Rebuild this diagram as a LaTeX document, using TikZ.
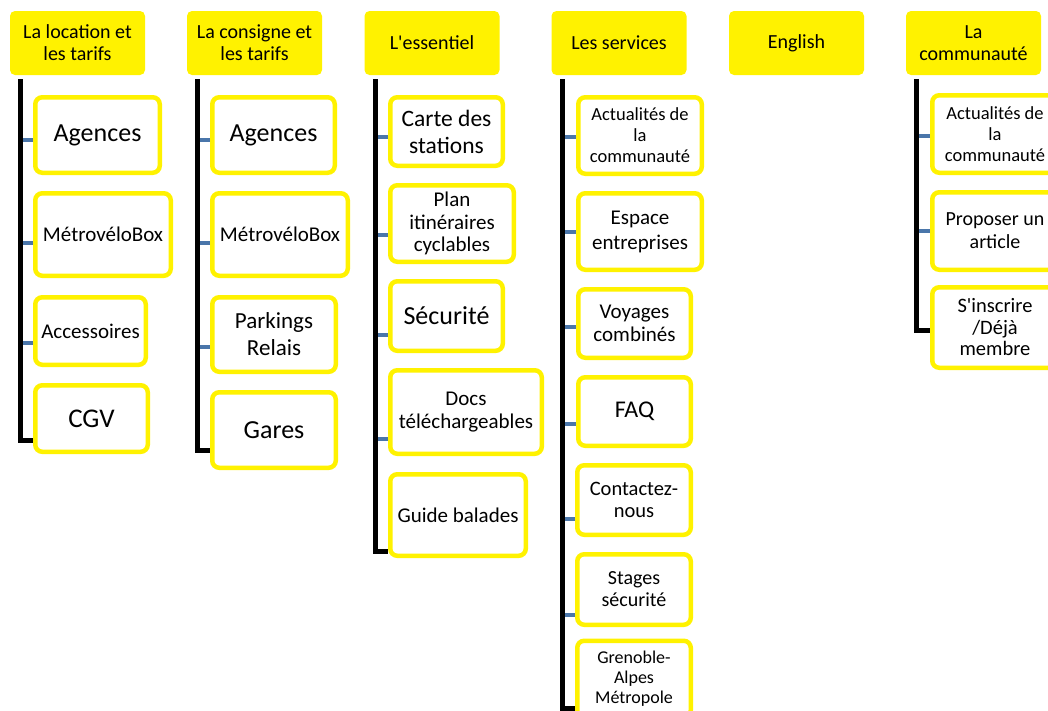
\documentclass[tikz,border=0pt]{standalone}
\usepackage{fontspec}
\setmainfont{Carlito}
\definecolor{stubblue}{RGB}{74,118,170}
\tikzset{
  head/.style={fill=yellow, rounded corners=5, align=center, inner sep=0,
    minimum width=135, minimum height=64, font=\fontsize{20}{22}\selectfont},
  kid/.style={draw=yellow, line width=4.5, fill=white, rounded corners=7,
    align=center, inner sep=0},
  sz/.style 2 args={font=\fontsize{#1}{#2}\selectfont},
  bar/.style={line width=5, black},
  stub/.style={line width=4.5, stubblue},
}
\begin{document}
\begin{tikzpicture}[x=1pt,y=-1pt]
  \useasboundingbox (0,0) rectangle (1048,710);
  % top row
  \node[head] (h1) at (77.5,43) {La location et\\les tarifs};
  \node[head] (h2) at (254.5,43) {La consigne et\\les tarifs};
  \node[head] (h3) at (432,43) {L\textquotesingle essentiel};
  \node[head] (h4) at (619,43) {Les services};
  \node[head] (h5) at (796.5,43) {English};
  \node[head] (h6) at (973.5,43) {La\\communauté};
  % location
  \node[kid, sz={26}{28}, minimum width=124.5, minimum height=75.5] (c11) at (97.5,135) {Agences};
  \node[kid, sz={21}{24}, minimum width=135.5, minimum height=82.5] (c12) at (103,234.5) {MétrovéloBox};
  \node[kid, sz={21}{24}, minimum width=110.5, minimum height=67.5] (c13) at (90.5,331) {Accessoires};
  \node[kid, sz={27}{30}, minimum width=112.5, minimum height=66.5] (c14) at (91.5,418.5) {CGV};
  % consigne
  \node[kid, sz={26}{28}, minimum width=122.5, minimum height=75.5] (c21) at (273.5,135) {Agences};
  \node[kid, sz={21}{24}, minimum width=135.5, minimum height=82.5] (c22) at (280,234.5) {MétrovéloBox};
  \node[kid, sz={23}{27}, minimum width=123.5, minimum height=74.5] (c23) at (274,334.5) {Parkings\\Relais};
  \node[kid, sz={26}{28}, minimum width=123.5, minimum height=75.5] (c24) at (274,430) {Gares};
  % essentiel
  \node[kid, sz={23.5}{27}, minimum width=112.5, minimum height=68.5] (c31) at (446.5,131.5) {Carte des\\stations};
  \node[kid, sz={21}{22.5}, minimum width=123.5, minimum height=76.5] (c32) at (452,223.5) {Plan\\itinéraires\\cyclables};
  \node[kid, sz={26}{28}, minimum width=112.5, minimum height=69.5] (c33) at (446.5,316) {Sécurité};
  \node[kid, sz={21}{23}, minimum width=151.5, minimum height=83.5] (c34) at (466,412) {Docs\\téléchargeables};
  \node[kid, sz={21}{23}, minimum width=135.5, minimum height=81.5] (c35) at (458,515) {Guide balades};
  % services
  \node[kid, sz={18.5}{21}, minimum width=123.5, minimum height=76.5] (c41) at (640,135.5) {Actualités de\\la\\communauté};
  \node[kid, sz={21}{25}, minimum width=123.5, minimum height=76.5] (c42) at (640,231.5) {Espace\\entreprises};
  \node[kid, sz={21}{23}, minimum width=112.5, minimum height=68.5] (c43) at (634.5,323.5) {Voyages\\combinés};
  \node[kid, sz={24}{26}, minimum width=112.5, minimum height=68.5] (c44) at (634.5,411.5) {FAQ};
  \node[kid, sz={20.5}{22}, minimum width=113.5, minimum height=69.5] (c45) at (634,500) {Contactez-\\nous};
  \node[kid, sz={20}{22}, minimum width=113.5, minimum height=70.5] (c46) at (634,589.5) {Stages\\sécurité};
  \node[kid, sz={18}{20}, minimum width=113.5, minimum height=76.5] (c47) at (634,679) {Grenoble-\\Alpes\\Métropole};
  % communaute
  \node[kid, sz={18.5}{21}, minimum width=125.5, minimum height=77.5] (c61) at (995,134) {Actualités de\\la\\communauté};
  \node[kid, sz={20}{23}, minimum width=125.5, minimum height=77.5] (c62) at (995,231) {Proposer un\\article};
  \node[kid, sz={20.5}{21.5}, minimum width=125.5, minimum height=80.5] (c63) at (995,327.5) {S\textquotesingle inscrire\\/Déjà\\membre};
  % links
  \foreach \n/\d in {c11/5,c12/8.5,c13/12,c21/5,c22/8.5,c23/12.5,c31/5.5,c32/11.5,c33/19,c34/27,
      c41/1.5,c42/0.5,c43/3.5,c44/12.5,c45/19,c46/25.5,c61/2,c62/0}
    \draw[stub] ([yshift=-\d]\n.west) -- ++(-14,0);
  \draw[bar] ([xshift=11,yshift=-4]h1.south west) |- ([yshift=-21.5]c14.west);
  \draw[bar] ([xshift=11,yshift=-4]h2.south west) |- ([yshift=-20]c24.west);
  \draw[bar] ([xshift=11,yshift=-4]h3.south west) |- ([yshift=-36]c35.west);
  \draw[bar] ([xshift=11,yshift=-4]h4.south west) |- ([yshift=-29]c47.west);
  \draw[bar] ([xshift=11,yshift=-4]h6.south west) |- ([yshift=-2.5]c63.west);
\end{tikzpicture}
\end{document}
